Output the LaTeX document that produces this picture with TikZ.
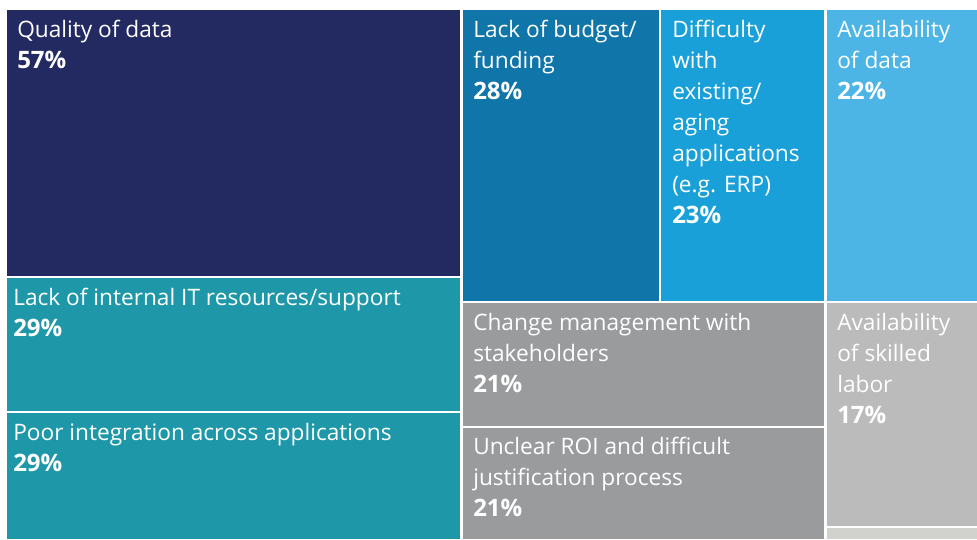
\documentclass[tikz,border=0pt]{standalone}
\usepackage{fontspec}
\setmainfont{Open Sans}
\definecolor{cnavy}{HTML}{222A61}
\definecolor{cteal}{HTML}{1E98A8}
\definecolor{cbudget}{HTML}{1075A8}
\definecolor{cdiff}{HTML}{19A0D8}
\definecolor{cavail}{HTML}{4CB5E5}
\definecolor{cgray}{HTML}{9A9B9D}
\definecolor{cskill}{HTML}{BABBBA}
\definecolor{clight}{HTML}{D1D1CD}
\newcommand{\pc}[1]{{\fontsize{18}{23.25}\selectfont\bfseries #1}}
\begin{document}
\begin{tikzpicture}[x=0.75pt,y=-0.75pt,
  lab/.style={anchor=base west,inner sep=0pt,text=white,align=left,
    font=\fontsize{17}{23.25}\selectfont}]
\useasboundingbox (0,0) rectangle (977,539);
\fill[white] (0,0) rectangle (977,539);
% boxes
\fill[cnavy]  (7,10)    rectangle (460,276);
\fill[cteal]  (7,278)   rectangle (460,411);
\fill[cteal]  (7,413)   rectangle (460,539);
\fill[cbudget](463,10)  rectangle (659,301);
\fill[cdiff]  (661,10)  rectangle (824,301);
\fill[cavail] (827,10)  rectangle (977,301);
\fill[cgray]  (463,303) rectangle (824,426);
\fill[cgray]  (463,428) rectangle (824,539);
\fill[cskill] (827,303) rectangle (977,526);
\fill[clight] (827,528) rectangle (977,539);
% labels (anchored at the baseline of the last line)
\node[lab] (quality) at (17,68) {Quality of data\\\pc{57\%}};
\node[lab] (itres) at (13,336) {Lack of internal IT resources/support\\\pc{29\%}};
\node[lab] (integ) at (13,471) {Poor integration across applications\\\pc{29\%}};
\node[lab] (budget) at (473,99) {Lack of budget/\\funding\\\pc{28\%}};
\node[lab] (diff) at (672,223) {Difficulty\\with\\existing/\\aging\\applications\\(e.g. ERP)\\\pc{23\%}};
\node[lab] (avail) at (837,99) {Availability\\of data\\\pc{22\%}};
\node[lab] (change) at (473,392) {Change management with\\stakeholders\\\pc{21\%}};
\node[lab] (roi) at (473,516) {Unclear ROI and difficult\\justification process\\\pc{21\%}};
\node[lab] (skill) at (837,423) {Availability\\of skilled\\labor\\\pc{17\%}};
\end{tikzpicture}
\end{document}
